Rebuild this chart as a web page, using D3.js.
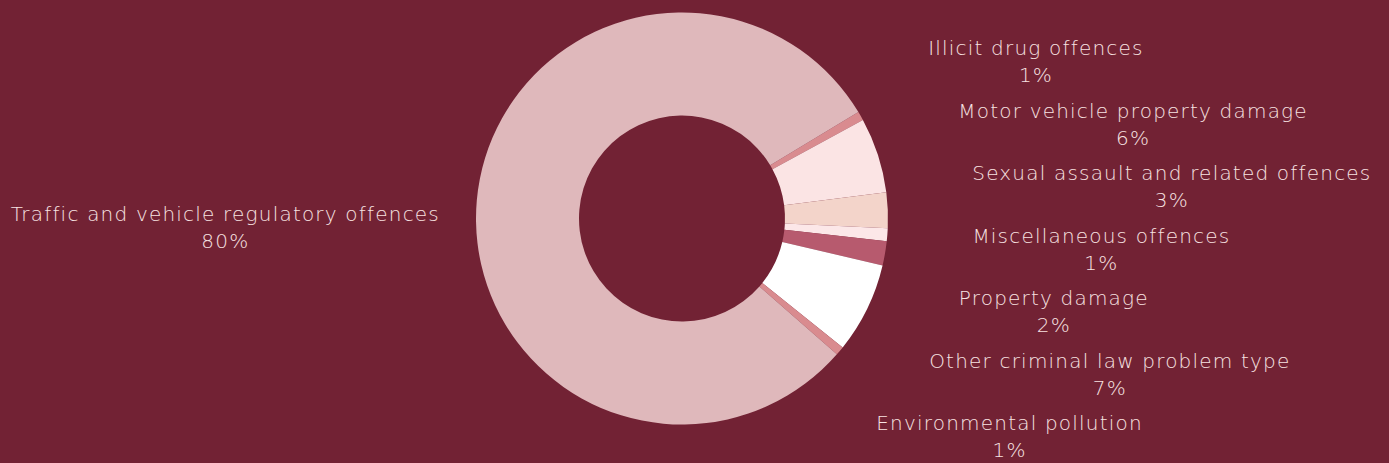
<!DOCTYPE html>
<html><head><meta charset="utf-8">
<script src="https://cdn.jsdelivr.net/npm/d3@7"></script>
<style>
html,body{margin:0;padding:0;background:#722234;}
svg{display:block;}
text{font-family:"DejaVu Sans",sans-serif;font-weight:200;fill:#f8e2e2;letter-spacing:1.2px;}
</style></head>
<body>
<svg id="chart" width="1389" height="463"></svg>
<script>
// Data (clockwise order starting at the top of the right-hand group)
const categories = [
  "Illicit drug offences",
  "Motor vehicle property damage",
  "Sexual assault and related offences",
  "Miscellaneous offences",
  "Property damage",
  "Other criminal law problem type",
  "Environmental pollution",
  "Traffic and vehicle regulatory offences"
];
const values = [0.7, 5.9, 2.8, 1.0, 1.9, 7.1, 0.7, 79.9];
const percentLabels = ["1%", "6%", "3%", "1%", "2%", "7%", "1%", "80%"];
const colors = ["#d98b8f", "#fbe4e4", "#f3d4ca", "#fce7e8", "#b75a6e", "#ffffff", "#d98b8f", "#dfb8bb"];

const W = 1389, H = 463;
const cx = 682, cy = 218.5, outerR = 206, innerR = 103;
const startDeg = 58.9;

const svg = d3.select("#chart");
const g = svg.append("g").attr("transform", `translate(${cx},${cy})`);

const pie = d3.pie().sort(null).value(d => d)
  .startAngle(startDeg * Math.PI / 180)
  .endAngle(startDeg * Math.PI / 180 + 2 * Math.PI);
const arcs = pie(values);
const arc = d3.arc().innerRadius(innerR).outerRadius(outerR);

g.selectAll("path").data(arcs).join("path")
  .attr("d", arc)
  .attr("fill", (d, i) => colors[i]);

const fs = 20;
const lineGap = 27;

// Right-hand labels: evenly spaced vertically, left edge following a circle
const rightIdx = d3.range(0, 7);
const ySpacing = 62.5, yFirst = -157, labelR = 292;
rightIdx.forEach((i, k) => {
  const yc = yFirst + k * ySpacing;
  const xl = Math.sqrt(Math.max(0, labelR * labelR - yc * yc));
  const grp = g.append("g");
  const t1 = grp.append("text").attr("x", 0).attr("y", yc - lineGap / 2 + 7)
    .attr("font-size", fs).attr("text-anchor", "middle").text(categories[i]);
  const w = t1.node().getComputedTextLength();
  grp.append("text").attr("x", 0).attr("y", yc + lineGap / 2 + 7)
    .attr("font-size", fs).attr("text-anchor", "middle").text(percentLabels[i]);
  grp.attr("transform", `translate(${xl + w / 2},0)`);
});

// Left label (largest slice)
{
  const i = 7;
  const grp = g.append("g");
  const yc = 9;
  const t1 = grp.append("text").attr("x", 0).attr("y", yc - lineGap / 2 + 7)
    .attr("font-size", fs).attr("text-anchor", "middle").text(categories[i]);
  const w = t1.node().getComputedTextLength();
  grp.append("text").attr("x", 0).attr("y", yc + lineGap / 2 + 7)
    .attr("font-size", fs).attr("text-anchor", "middle").text(percentLabels[i]);
  grp.attr("transform", `translate(${-outerR - 36 - w / 2},0)`);
}
</script>
</body></html>
